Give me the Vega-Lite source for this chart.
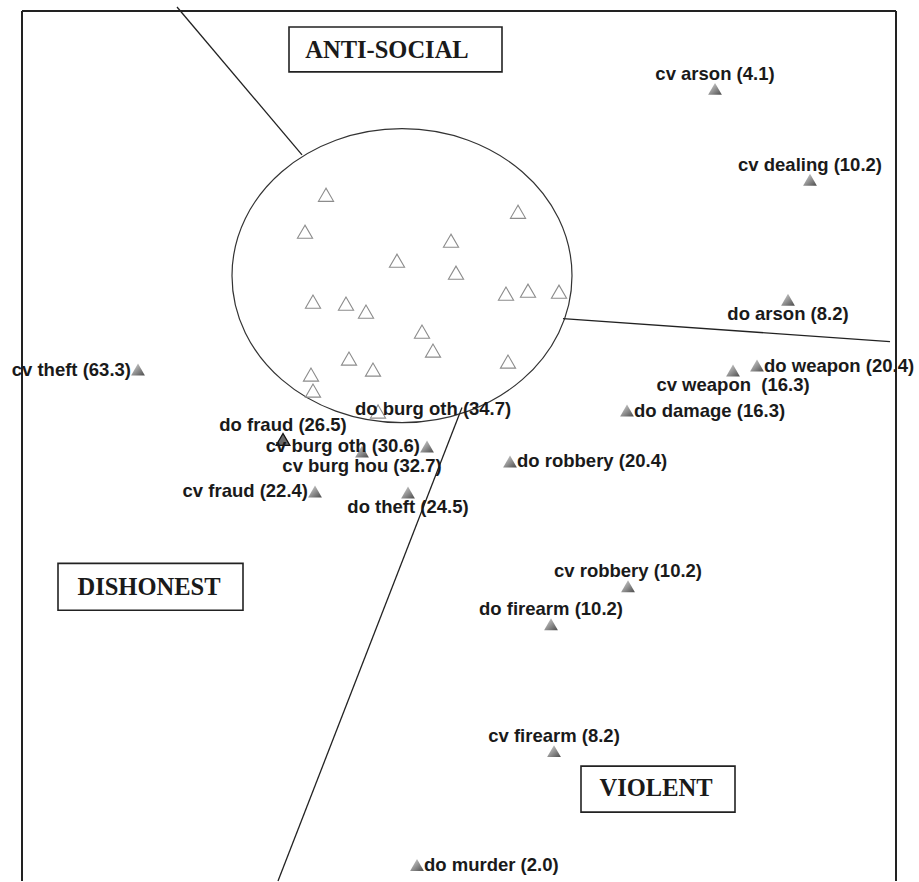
{
  "$schema": "https://vega.github.io/schema/vega-lite/v6.json",
  "width": 919,
  "height": 882,
  "autosize": {"type": "fit", "contains": "padding"},
  "padding": 0,
  "background": "white",
  "config": {"view": {"stroke": null}},
  "datasets": {
    "points": [
      {"crime": "", "d1": -1.335, "d2": 2.46, "kind": "open", "pos": "none"},
      {"crime": "", "d1": -1.545, "d2": 2.09, "kind": "open", "pos": "none"},
      {"crime": "", "d1": 0.585, "d2": 2.29, "kind": "open", "pos": "none"},
      {"crime": "", "d1": -0.085, "d2": 2.0, "kind": "open", "pos": "none"},
      {"crime": "", "d1": -0.625, "d2": 1.8, "kind": "open", "pos": "none"},
      {"crime": "", "d1": -0.035, "d2": 1.68, "kind": "open", "pos": "none"},
      {"crime": "", "d1": -1.465, "d2": 1.39, "kind": "open", "pos": "none"},
      {"crime": "", "d1": -1.135, "d2": 1.37, "kind": "open", "pos": "none"},
      {"crime": "", "d1": -0.935, "d2": 1.29, "kind": "open", "pos": "none"},
      {"crime": "", "d1": 0.465, "d2": 1.47, "kind": "open", "pos": "none"},
      {"crime": "", "d1": 0.685, "d2": 1.5, "kind": "open", "pos": "none"},
      {"crime": "", "d1": 0.995, "d2": 1.49, "kind": "open", "pos": "none"},
      {"crime": "", "d1": -0.375, "d2": 1.09, "kind": "open", "pos": "none"},
      {"crime": "", "d1": -0.265, "d2": 0.9, "kind": "open", "pos": "none"},
      {"crime": "", "d1": -1.105, "d2": 0.82, "kind": "open", "pos": "none"},
      {"crime": "", "d1": -0.865, "d2": 0.71, "kind": "open", "pos": "none"},
      {"crime": "", "d1": 0.485, "d2": 0.79, "kind": "open", "pos": "none"},
      {"crime": "", "d1": -1.485, "d2": 0.66, "kind": "open", "pos": "none"},
      {"crime": "", "d1": -1.465, "d2": 0.5, "kind": "open", "pos": "none"},
      {"crime": "do burg oth (34.7)", "d1": -0.815, "d2": 0.29, "kind": "open", "pos": "inside"},
      {"crime": "cv arson (4.1)", "d1": 2.555, "d2": 3.52, "kind": "filled", "pos": "above"},
      {"crime": "cv dealing (10.2)", "d1": 3.505, "d2": 2.61, "kind": "filled", "pos": "above"},
      {"crime": "do arson (8.2)", "d1": 3.285, "d2": 1.41, "kind": "filled", "pos": "below"},
      {"crime": "do weapon (20.4)", "d1": 2.975, "d2": 0.75, "kind": "filled", "pos": "right"},
      {"crime": "cv weapon\u00a0 (16.3)", "d1": 2.735, "d2": 0.7, "kind": "filled", "pos": "below"},
      {"crime": "do damage (16.3)", "d1": 1.675, "d2": 0.3, "kind": "filled", "pos": "right"},
      {"crime": "cv theft (63.3)", "d1": -3.215, "d2": 0.71, "kind": "filled", "pos": "left"},
      {"crime": "do fraud (26.5)", "d1": -1.765, "d2": 0.01, "kind": "dark", "pos": "above"},
      {"crime": "cv burg oth (30.6)", "d1": -0.325, "d2": -0.06, "kind": "filled", "pos": "left"},
      {"crime": "cv burg hou (32.7)", "d1": -0.975, "d2": -0.11, "kind": "filled", "pos": "below"},
      {"crime": "cv fraud (22.4)", "d1": -1.445, "d2": -0.51, "kind": "filled", "pos": "left"},
      {"crime": "do theft (24.5)", "d1": -0.515, "d2": -0.52, "kind": "filled", "pos": "below"},
      {"crime": "do robbery (20.4)", "d1": 0.505, "d2": -0.21, "kind": "filled", "pos": "right"},
      {"crime": "cv robbery (10.2)", "d1": 1.685, "d2": -1.46, "kind": "filled", "pos": "above"},
      {"crime": "do firearm (10.2)", "d1": 0.915, "d2": -1.84, "kind": "filled", "pos": "above"},
      {"crime": "cv firearm (8.2)", "d1": 0.945, "d2": -3.11, "kind": "filled", "pos": "above"},
      {"crime": "do murder (2.0)", "d1": -0.425, "d2": -4.25, "kind": "filled", "pos": "right"}
    ],
    "segments": [
      {"part": "frame left", "d1": -4.375, "d2": 4.3, "e1": -4.375, "e2": -4.41, "w": "frame"},
      {"part": "frame top", "d1": -4.375, "d2": 4.3, "e1": 4.365, "e2": 4.3, "w": "frame"},
      {"part": "frame right", "d1": 4.365, "d2": 4.3, "e1": 4.365, "e2": -4.41, "w": "frame"},
      {"part": "divider anti-social", "d1": -2.825, "d2": 4.34, "e1": -1.575, "e2": 2.86, "w": "divider"},
      {"part": "divider right", "d1": 1.035, "d2": 1.22, "e1": 4.305, "e2": 0.99, "w": "divider"},
      {"part": "divider bottom", "d1": 0.025, "d2": 0.33, "e1": -1.815, "e2": -4.41, "w": "divider"}
    ],
    "boxes": [
      {"name": "ANTI-SOCIAL", "d1": -1.705, "e1": 0.425, "d2": 4.14, "e2": 3.69, "t1": -0.725, "t2": 3.9},
      {"name": "DISHONEST", "d1": -4.015, "e1": -2.165, "d2": -1.23, "e2": -1.7, "t1": -3.105, "t2": -1.48},
      {"name": "VIOLENT", "d1": 1.215, "e1": 2.755, "d2": -3.26, "e2": -3.72, "t1": 1.965, "t2": -3.49}
    ],
    "ellipse": [
      {"name": "cluster", "d1": -0.575, "d2": 1.65}
    ]
  },
  "layer": [
    {
      "data": {"name": "ellipse"},
      "mark": {
        "type": "point",
        "shape": "M -1 0 C -1 -0.4776 -0.5523 -0.8647 0 -0.8647 C 0.5523 -0.8647 1 -0.4776 1 0 C 1 0.4776 0.5523 0.8647 0 0.8647 C -0.5523 0.8647 -1 0.4776 -1 0 Z",
        "size": 115600,
        "filled": false,
        "stroke": "#333333",
        "strokeWidth": 1.2,
        "opacity": 1
      },
      "encoding": {
        "x": {"field": "d1", "type": "quantitative", "scale": {"domain": [-4.595, 4.595], "nice": false, "zero": false}, "axis": null},
        "y": {"field": "d2", "type": "quantitative", "scale": {"domain": [-4.41, 4.41], "nice": false, "zero": false}, "axis": null}
      }
    },
    {
      "data": {"name": "segments"},
      "transform": [{"filter": "datum.w === 'divider'"}],
      "mark": {"type": "rule", "stroke": "#222222", "strokeWidth": 1.3},
      "encoding": {
        "x": {"field": "d1", "type": "quantitative", "scale": {"domain": [-4.595, 4.595], "nice": false, "zero": false}, "axis": null},
        "y": {"field": "d2", "type": "quantitative", "scale": {"domain": [-4.41, 4.41], "nice": false, "zero": false}, "axis": null},
        "x2": {"field": "e1"},
        "y2": {"field": "e2"}
      }
    },
    {
      "data": {"name": "segments"},
      "transform": [{"filter": "datum.w === 'frame'"}],
      "mark": {"type": "rule", "stroke": "#222222", "strokeWidth": 2},
      "encoding": {
        "x": {"field": "d1", "type": "quantitative", "scale": {"domain": [-4.595, 4.595], "nice": false, "zero": false}, "axis": null},
        "y": {"field": "d2", "type": "quantitative", "scale": {"domain": [-4.41, 4.41], "nice": false, "zero": false}, "axis": null},
        "x2": {"field": "e1"},
        "y2": {"field": "e2"}
      }
    },
    {
      "data": {"name": "boxes"},
      "mark": {"type": "rect", "fill": "white", "stroke": "#222222", "strokeWidth": 1.6},
      "encoding": {
        "x": {"field": "d1", "type": "quantitative", "scale": {"domain": [-4.595, 4.595], "nice": false, "zero": false}, "axis": null},
        "y": {"field": "d2", "type": "quantitative", "scale": {"domain": [-4.41, 4.41], "nice": false, "zero": false}, "axis": null},
        "x2": {"field": "e1"},
        "y2": {"field": "e2"}
      }
    },
    {
      "data": {"name": "boxes"},
      "mark": {"type": "text", "font": "Liberation Serif", "fontWeight": "bold", "fontSize": 24.5, "color": "#1a1a1a", "align": "center", "baseline": "middle"},
      "encoding": {
        "x": {"field": "t1", "type": "quantitative", "scale": {"domain": [-4.595, 4.595], "nice": false, "zero": false}, "axis": null},
        "y": {"field": "t2", "type": "quantitative", "scale": {"domain": [-4.41, 4.41], "nice": false, "zero": false}, "axis": null},
        "text": {"field": "name"}
      }
    },
    {
      "data": {"name": "points"},
      "transform": [{"filter": "datum.kind === 'open'"}],
      "mark": {"type": "point", "shape": "triangle-up", "size": 230, "filled": false, "stroke": "#8c8c8c", "strokeWidth": 1.1, "opacity": 1},
      "encoding": {
        "x": {"field": "d1", "type": "quantitative", "scale": {"domain": [-4.595, 4.595], "nice": false, "zero": false}, "axis": null},
        "y": {"field": "d2", "type": "quantitative", "scale": {"domain": [-4.41, 4.41], "nice": false, "zero": false}, "axis": null}
      }
    },
    {
      "data": {"name": "points"},
      "transform": [{"filter": "datum.kind === 'filled'"}],
      "mark": {
        "type": "point", "shape": "triangle-up", "size": 190, "filled": true, "opacity": 1,
        "fill": {"gradient": "linear", "x1": 0, "y1": 0, "x2": 1, "y2": 1, "stops": [{"offset": 0, "color": "#dcdcdc"}, {"offset": 0.5, "color": "#959595"}, {"offset": 1, "color": "#4a4a4a"}]}
      },
      "encoding": {
        "x": {"field": "d1", "type": "quantitative", "scale": {"domain": [-4.595, 4.595], "nice": false, "zero": false}, "axis": null},
        "y": {"field": "d2", "type": "quantitative", "scale": {"domain": [-4.41, 4.41], "nice": false, "zero": false}, "axis": null}
      }
    },
    {
      "data": {"name": "points"},
      "transform": [{"filter": "datum.kind === 'dark'"}],
      "mark": {"type": "point", "shape": "triangle-up", "size": 190, "filled": true, "fill": "#6a6a6a", "stroke": "#111111", "strokeWidth": 1.3, "opacity": 1},
      "encoding": {
        "x": {"field": "d1", "type": "quantitative", "scale": {"domain": [-4.595, 4.595], "nice": false, "zero": false}, "axis": null},
        "y": {"field": "d2", "type": "quantitative", "scale": {"domain": [-4.41, 4.41], "nice": false, "zero": false}, "axis": null}
      }
    },
    {
      "data": {"name": "points"},
      "transform": [{"filter": "datum.pos === 'above'"}],
      "mark": {"type": "text", "font": "Liberation Sans", "fontWeight": "bold", "fontSize": 18.5, "color": "#1a1a1a", "align": "center", "baseline": "middle", "dy": -15},
      "encoding": {
        "x": {"field": "d1", "type": "quantitative", "scale": {"domain": [-4.595, 4.595], "nice": false, "zero": false}, "axis": null},
        "y": {"field": "d2", "type": "quantitative", "scale": {"domain": [-4.41, 4.41], "nice": false, "zero": false}, "axis": null},
        "text": {"field": "crime"}
      }
    },
    {
      "data": {"name": "points"},
      "transform": [{"filter": "datum.pos === 'below'"}],
      "mark": {"type": "text", "font": "Liberation Sans", "fontWeight": "bold", "fontSize": 18.5, "color": "#1a1a1a", "align": "center", "baseline": "middle", "dy": 14.5},
      "encoding": {
        "x": {"field": "d1", "type": "quantitative", "scale": {"domain": [-4.595, 4.595], "nice": false, "zero": false}, "axis": null},
        "y": {"field": "d2", "type": "quantitative", "scale": {"domain": [-4.41, 4.41], "nice": false, "zero": false}, "axis": null},
        "text": {"field": "crime"}
      }
    },
    {
      "data": {"name": "points"},
      "transform": [{"filter": "datum.pos === 'right'"}],
      "mark": {"type": "text", "font": "Liberation Sans", "fontWeight": "bold", "fontSize": 18.5, "color": "#1a1a1a", "align": "left", "baseline": "middle", "dx": 7},
      "encoding": {
        "x": {"field": "d1", "type": "quantitative", "scale": {"domain": [-4.595, 4.595], "nice": false, "zero": false}, "axis": null},
        "y": {"field": "d2", "type": "quantitative", "scale": {"domain": [-4.41, 4.41], "nice": false, "zero": false}, "axis": null},
        "text": {"field": "crime"}
      }
    },
    {
      "data": {"name": "points"},
      "transform": [{"filter": "datum.pos === 'left'"}],
      "mark": {"type": "text", "font": "Liberation Sans", "fontWeight": "bold", "fontSize": 18.5, "color": "#1a1a1a", "align": "right", "baseline": "middle", "dx": -7},
      "encoding": {
        "x": {"field": "d1", "type": "quantitative", "scale": {"domain": [-4.595, 4.595], "nice": false, "zero": false}, "axis": null},
        "y": {"field": "d2", "type": "quantitative", "scale": {"domain": [-4.41, 4.41], "nice": false, "zero": false}, "axis": null},
        "text": {"field": "crime"}
      }
    },
    {
      "data": {"name": "points"},
      "transform": [{"filter": "datum.pos === 'inside'"}],
      "mark": {"type": "text", "font": "Liberation Sans", "fontWeight": "bold", "fontSize": 18.5, "color": "#1a1a1a", "align": "left", "baseline": "middle", "dx": -23, "dy": -3},
      "encoding": {
        "x": {"field": "d1", "type": "quantitative", "scale": {"domain": [-4.595, 4.595], "nice": false, "zero": false}, "axis": null},
        "y": {"field": "d2", "type": "quantitative", "scale": {"domain": [-4.41, 4.41], "nice": false, "zero": false}, "axis": null},
        "text": {"field": "crime"}
      }
    }
  ]
}
